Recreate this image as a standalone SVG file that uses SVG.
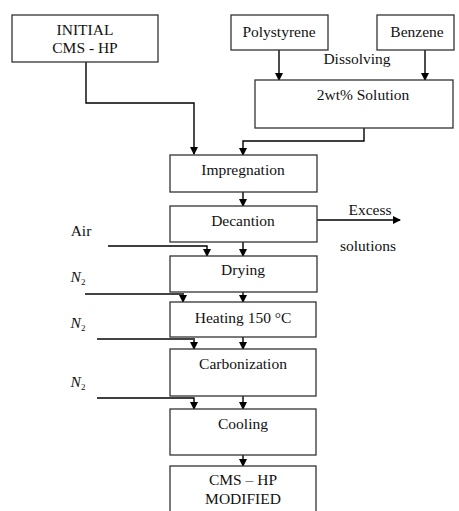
<svg xmlns="http://www.w3.org/2000/svg" width="459" height="511" viewBox="0 0 459 511">
<defs>
<marker id="ah" markerWidth="8" markerHeight="8" refX="7" refY="4" orient="auto" markerUnits="userSpaceOnUse">
<path d="M0,0 L8,4 L0,8 Z" fill="#000"/>
</marker>
<style>
.box{fill:#fff;stroke:#333;stroke-width:1.3}
.t{font-family:'Liberation Serif','DejaVu Serif',serif;font-size:15.5px;fill:#111;text-anchor:middle}
.l{fill:none;stroke:#000;stroke-width:1.4}
.g{fill:none;stroke:#444;stroke-width:2}
</style>
</defs>
<rect width="459" height="511" fill="#fff"/>
<g id="connectors">
<path class="l" d="M86,62 V103 H194 V154" marker-end="url(#ah)"/>
<path class="l" d="M279,50 V80" marker-end="url(#ah)"/>
<path class="l" d="M425,50 V80" marker-end="url(#ah)"/>
<path class="l" d="M364,128 V141 H243 V155" marker-end="url(#ah)"/>
<path class="l" d="M243,192 V206" marker-end="url(#ah)"/>
<path class="l" d="M317,220 H400" marker-end="url(#ah)"/>
<path class="l" d="M243,242 V256" marker-end="url(#ah)"/>
<path class="l" d="M108,246 H207 V256" marker-end="url(#ah)"/>
<path class="l" d="M243,292 V302" marker-end="url(#ah)"/>
<path class="g" d="M85,294 H183 V302" marker-end="url(#ah)"/>
<path class="l" d="M243,337 V349" marker-end="url(#ah)"/>
<path class="g" d="M97,339 H194 V349" marker-end="url(#ah)"/>
<path class="l" d="M243,396 V409" marker-end="url(#ah)"/>
<path class="l" d="M97,398 H194 V409" marker-end="url(#ah)"/>
<path class="l" d="M243,455 V466" marker-end="url(#ah)"/>
</g>
<g font-family="Liberation Serif, DejaVu Serif, serif">
<g id="initial"><rect class="box" x="12" y="15" width="146" height="47"/><text class="t" x="85" y="35">INITIAL</text><text class="t" x="85" y="53">CMS - HP</text></g>
<g id="polystyrene"><rect class="box" x="231" y="15" width="97" height="35"/><text class="t" x="279" y="37">Polystyrene</text></g>
<g id="benzene"><rect class="box" x="377" y="15" width="77" height="35"/><text class="t" x="417" y="37">Benzene</text></g>
<g id="dissolving"><text class="t" x="357" y="64">Dissolving</text></g>
<g id="solution"><rect class="box" x="255" y="80" width="198" height="48"/><text class="t" x="363" y="100">2wt% Solution</text></g>
<g id="impregnation"><rect class="box" x="170" y="155" width="147" height="37"/><text class="t" x="243" y="175">Impregnation</text></g>
<g id="decantion"><rect class="box" x="170" y="206" width="147" height="36"/><text class="t" x="243" y="226">Decantion</text></g>
<g id="excess"><text class="t" x="370" y="215">Excess</text><text class="t" x="368" y="251">solutions</text></g>
<g id="air"><text class="t" x="81" y="236">Air</text></g>
<g id="drying"><rect class="box" x="170" y="256" width="147" height="36"/><text class="t" x="243" y="275">Drying</text></g>
<g id="n2a"><text class="t" x="78" y="282" font-style="italic">N<tspan font-size="9" dy="3" font-style="normal">2</tspan></text></g>
<g id="heating"><rect class="box" x="170" y="302" width="146" height="35"/><text class="t" x="243" y="323">Heating 150 °C</text></g>
<g id="n2b"><text class="t" x="78" y="328" font-style="italic">N<tspan font-size="9" dy="3" font-style="normal">2</tspan></text></g>
<g id="carbonization"><rect class="box" x="170" y="349" width="146" height="47"/><text class="t" x="243" y="369">Carbonization</text></g>
<g id="n2c"><text class="t" x="78" y="387" font-style="italic">N<tspan font-size="9" dy="3" font-style="normal">2</tspan></text></g>
<g id="cooling"><rect class="box" x="170" y="409" width="146" height="46"/><text class="t" x="243" y="429">Cooling</text></g>
<g id="modified"><rect class="box" x="170" y="466" width="146" height="50"/><text class="t" x="243" y="485">CMS – HP</text><text class="t" x="243" y="504">MODIFIED</text></g>
</g>
</svg>
